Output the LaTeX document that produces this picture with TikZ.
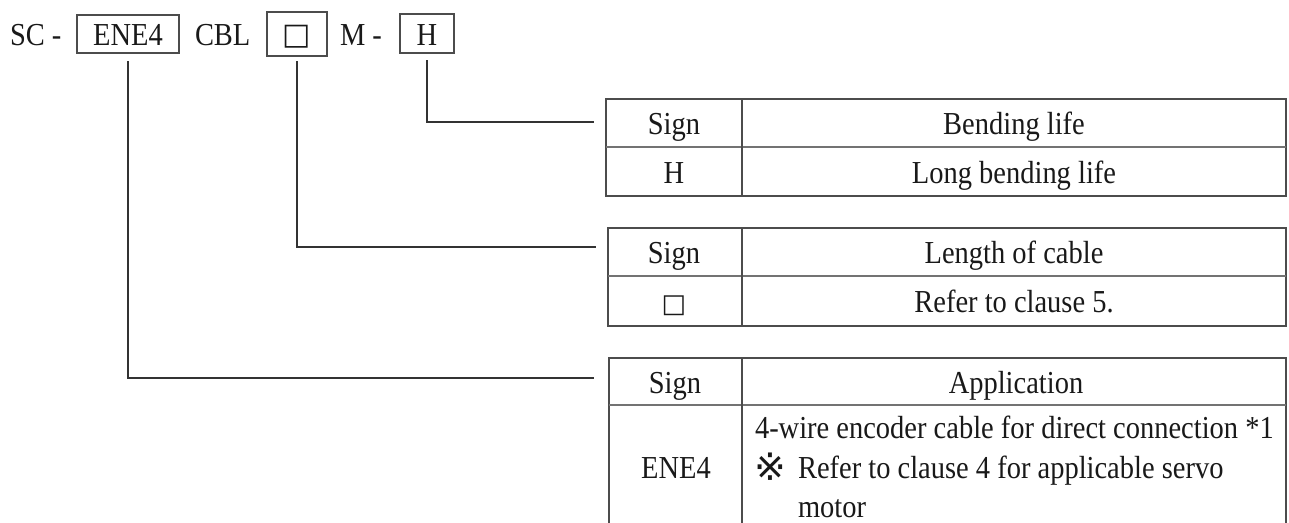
\documentclass[tikz,border=0pt]{standalone}
\usepackage{fontspec}
\setmainfont{Liberation Serif}[FakeStretch=0.89]
\newfontfamily\symf{DejaVu Sans}
\begin{document}
\begin{tikzpicture}[x=1pt,y=-1pt,
  every node/.style={inner sep=0pt,outer sep=0pt,font=\fontsize{32}{39}\selectfont,text=black!90},
  codebox/.style={draw=black!70,line width=1.3pt},
  conn/.style={draw=black!80,line width=1.8pt},
  tbl/.style={draw=black!70,line width=1.3pt},
  hsep/.style={draw=black!55,line width=2.6pt},
  txt/.style={anchor=base},
  txtw/.style={anchor=base west}]
\useasboundingbox (0,0) rectangle (1289,522);
% code row
\node[txtw] (sc) at (10,45) {SC -};
\node[codebox,minimum width=102pt,minimum height=38pt] (bene) at (128,34) {};
\node[txt] (bene-t) at (128,45) {ENE4};
\node[txtw] (cbl) at (195,45) {CBL};
\node[codebox,line width=1.8pt,minimum width=60pt,minimum height=44pt] (bsq) at (297,34) {};
\node[txt,font=\symf\fontsize{30}{36}\selectfont] (bsq-t) at (297,44) {□};
\node[txtw] (mm) at (340,45) {M -};
\node[codebox,minimum width=54pt,minimum height=39pt] (bh) at (427,33.5) {};
\node[txt] (bh-t) at (427,45) {H};
% table 1
\node[tbl,minimum width=680pt,minimum height=97pt] (t1) at (946,147.5) {};
\draw[hsep] (t1.west |- 0,147) -- (t1.east |- 0,147);
\draw[tbl] (742,99) -- (742,196);
\node[txt] (t1s) at (674,134) {Sign};
\node[txt] (t1h) at (1014,134) {Bending life};
\node[txt] (t1a) at (674,183) {H};
\node[txt] (t1b) at (1014,183) {Long bending life};
% table 2
\node[tbl,minimum width=678pt,minimum height=98pt] (t2) at (947,277) {};
\draw[hsep] (t2.west |- 0,276) -- (t2.east |- 0,276);
\draw[tbl] (742,228) -- (742,326);
\node[txt] (t2s) at (674,263) {Sign};
\node[txt] (t2h) at (1014,263) {Length of cable};
\node[txt,font=\symf\fontsize{26}{30}\selectfont] (t2a) at (674,312) {□};
\node[txt] (t2b) at (1014,312) {Refer to clause 5.};
% table 3
\coordinate (t3bl) at (609,523);
\coordinate (t3br) at (1286,523);
\draw[tbl] (t3bl) |- (1286,358) -- (t3br);
\draw[hsep] (609,405) -- (1286,405);
\draw[tbl] (742,358) -- (742,523);
\node[txt] (t3s) at (675,393) {Sign};
\node[txt] (t3h) at (1016,393) {Application};
\node[txt] (t3a) at (676,478) {ENE4};
\node[txtw] (t3b1) at (755,438) {4-wire encoder cable for direct connection *1};
\node[txtw,font=\symf\fontsize{38}{44}\selectfont] (t3mk) at (754,480) {※};
\node[txtw] (t3b2) at (798,478) {Refer to clause 4 for applicable servo};
\node[txtw] (t3b3) at (798,517) {motor};
% connectors
\coordinate (e1) at (594,122);
\coordinate (e2) at (596,247);
\coordinate (e3) at (594,378);
\draw[conn] ([yshift=-7pt]bh.south) |- (e1);
\draw[conn] ([yshift=-5pt]bsq.south) |- (e2);
\draw[conn] ([yshift=-8pt]bene.south) |- (e3);
\end{tikzpicture}
\end{document}
